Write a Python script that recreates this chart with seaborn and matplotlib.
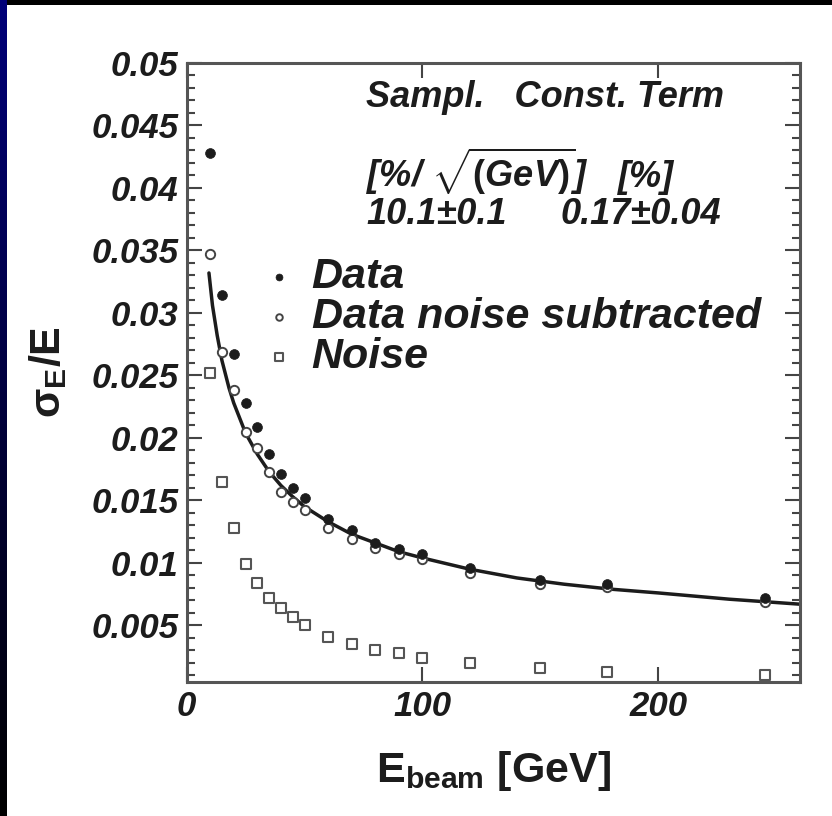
import numpy as np
import pandas as pd
import matplotlib
matplotlib.use("Agg")
import matplotlib.pyplot as plt
import seaborn as sns
from matplotlib.colors import LinearSegmentedColormap
from matplotlib.ticker import FixedLocator, MultipleLocator, NullLocator

# beam energies [GeV] and relative resolutions
energy = [10, 15, 20, 25, 30, 35, 40, 45, 50, 60, 70, 80, 90, 100, 120, 150, 178, 245]
res_data = [0.0428, 0.0314, 0.0267, 0.0228, 0.0209, 0.0187, 0.0171, 0.0160, 0.0152,
            0.0135, 0.0126, 0.0116, 0.0111, 0.0107, 0.0096, 0.0086, 0.0083, 0.0072]
res_sub = [0.0347, 0.0269, 0.0238, 0.0205, 0.0192, 0.0173, 0.0157, 0.0149, 0.0142,
           0.0128, 0.0119, 0.0112, 0.0107, 0.0103, 0.0092, 0.0083, 0.0081, 0.0069]
res_noise = [0.0252, 0.0165, 0.0128, 0.0099, 0.0084, 0.0072, 0.0064, 0.0057, 0.0050,
             0.0041, 0.0035, 0.0030, 0.0028, 0.0024, 0.0020, 0.0016, 0.0013, 0.0010]

# fitted curve, points
fit_e = [9.5, 11, 13, 15, 18, 20, 25, 30, 35, 40, 45, 50, 60, 70, 80, 90, 100,
         120, 140, 160, 180, 200, 230, 260]
fit_res = [0.0332, 0.0306, 0.0282, 0.0262, 0.0240, 0.0228, 0.0204, 0.0187, 0.0173,
           0.0162, 0.0153, 0.0145, 0.0133, 0.0123, 0.0116, 0.0109, 0.0104,
           0.0095, 0.0088, 0.0083, 0.0079, 0.0076, 0.0071, 0.0067]

y_ticks = [0.005, 0.01, 0.015, 0.02, 0.025, 0.03, 0.035, 0.04, 0.045, 0.05]
x_ticks = [0, 100, 200]

pts = pd.DataFrame({"E": energy, "data": res_data, "sub": res_sub, "noise": res_noise})
fit = pd.DataFrame({"E": fit_e, "res": fit_res})

sns.set_style("ticks")
plt.rcParams["font.family"] = ["Liberation Sans", "DejaVu Sans"]
plt.rcParams["mathtext.fontset"] = "custom"
plt.rcParams["mathtext.rm"] = "Liberation Sans:bold"
plt.rcParams["mathtext.it"] = "Liberation Sans:bold:italic"
plt.rcParams["mathtext.bf"] = "Liberation Sans:bold"

ink = "#1c1c1c"
fig = plt.figure(figsize=(8.32, 8.16), dpi=100)
fig.patch.set_facecolor("white")

# slide frame: black top band, dark-blue gradient strip on the left
top = fig.add_axes([0, 1 - 5 / 816, 1, 5 / 816])
top.set_axis_off()
top.add_patch(plt.Rectangle((0, 0), 1, 1, color="black", transform=top.transAxes))
side = fig.add_axes([0, 0, 7 / 832, 1])
side.imshow(np.linspace(1, 0, 100).reshape(-1, 1), aspect="auto",
            cmap=LinearSegmentedColormap.from_list("slide", ["black", "#000078"]))
side.set_axis_off()

ax = fig.add_axes([0.2242, 0.1646, 0.7373, 0.7582])

sns.lineplot(data=fit, x="E", y="res", color=ink, lw=2.5, ax=ax, legend=False, zorder=2)
sns.scatterplot(data=pts, x="E", y="noise", marker="s", s=55, color="white",
                edgecolor="#555555", linewidth=1.5, ax=ax, label="Noise", zorder=3)
sns.scatterplot(data=pts, x="E", y="sub", marker="o", s=45, color="white",
                edgecolor="#444444", linewidth=1.4, ax=ax, label="Data noise subtracted", zorder=3)
sns.scatterplot(data=pts, x="E", y="data", marker="o", s=50, color=ink,
                edgecolor=ink, linewidth=0.5, ax=ax, label="Data", zorder=4)

ax.set_xlim(0, 260)
ax.set_ylim(0.0005, 0.05)

ax.yaxis.set_major_locator(FixedLocator(y_ticks))
ax.set_yticklabels([f"{v:g}" for v in y_ticks])
ax.yaxis.set_minor_locator(MultipleLocator(0.001))
ax.xaxis.set_major_locator(FixedLocator(x_ticks))
ax.set_xticklabels([str(v) for v in x_ticks])
ax.xaxis.set_minor_locator(NullLocator())

ax.tick_params(which="both", direction="in", top=True, right=True, color="#444444")
ax.tick_params(which="major", length=11, width=1.5, pad=6)
ax.tick_params(which="minor", length=5.5, width=1.5)
for lbl in ax.get_xticklabels() + ax.get_yticklabels():
    lbl.set_fontsize(25)
    lbl.set_fontweight("bold")
    lbl.set_fontstyle("italic")
    lbl.set_color(ink)
for sp in ax.spines.values():
    sp.set_linewidth(2.2)
    sp.set_color("#555555")

ax.set_xlabel(r"E$_{\mathrm{beam}}$ [GeV]", fontsize=31, fontweight="bold",
              color=ink, labelpad=19)
ax.set_ylabel(r"$\mathrm{\sigma_{E}/E}$", fontsize=31, color=ink, labelpad=16)

# fit result block
txt = dict(transform=ax.transAxes, fontsize=26, fontweight="bold", fontstyle="italic",
           color=ink, va="baseline", ha="left")
ax.text(0.293, 0.929, "Sampl.   Const. Term", **txt)
ax.text(0.293, 0.80, r"[%/ $\sqrt{\mathit{(GeV)}}$]", **txt)
ax.text(0.703, 0.80, "[%]", **txt)
ax.text(0.293, 0.74, "10.1\u00b10.1", **txt)
ax.text(0.609, 0.74, "0.17\u00b10.04", **txt)

handles, labels = ax.get_legend_handles_labels()
order = [labels.index(n) for n in ["Data", "Data noise subtracted", "Noise"]]
leg = ax.legend([handles[i] for i in order], [labels[i] for i in order],
                loc="upper left", bbox_to_anchor=(0.123, 0.686), frameon=False,
                markerscale=0.7, handlelength=0.8, handletextpad=0.35,
                labelspacing=0.0, borderpad=0, borderaxespad=0,
                prop={"family": "Liberation Sans", "weight": "bold",
                      "style": "italic", "size": 31})
for t in leg.get_texts():
    t.set_color(ink)

fig.savefig("out.png", dpi=100)
